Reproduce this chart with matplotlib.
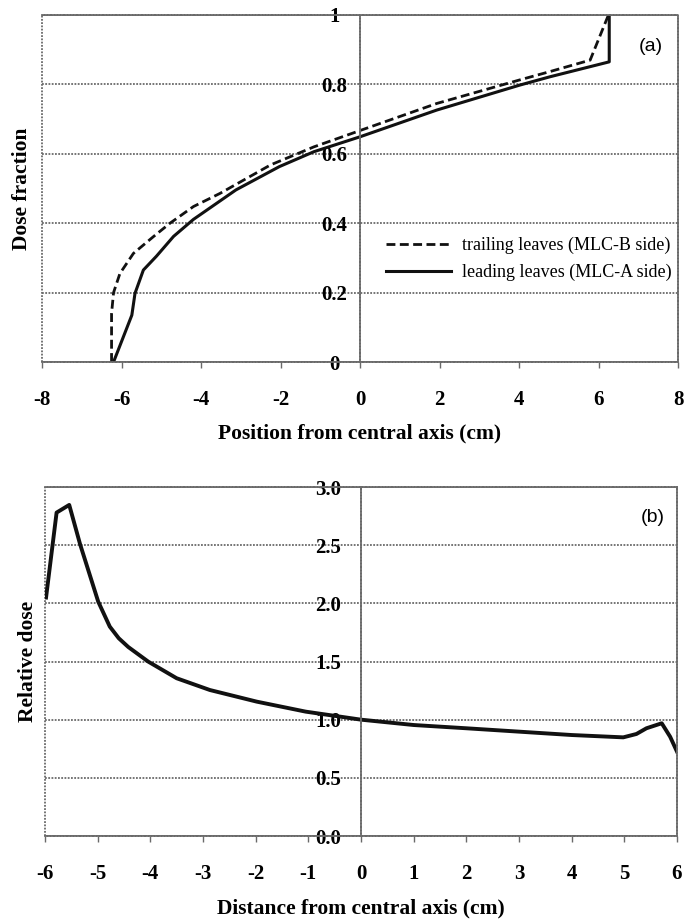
import matplotlib
matplotlib.use("Agg")
import matplotlib.pyplot as plt

# ---- data (panel a) ----
trail_x = [-6.25, -6.25, -6.2, -6.04, -5.7, -5.2, -4.78, -4.19, -3.52, -2.25, -1.16, 0.0, 1.93, 4.02, 4.78, 5.79, 6.25]
trail_y = [0.0, 0.14, 0.2, 0.255, 0.313, 0.361, 0.4, 0.448, 0.486, 0.568, 0.62, 0.667, 0.745, 0.813, 0.837, 0.87, 1.0]
lead_x = [-6.2, -5.74, -5.66, -5.45, -5.12, -4.69, -4.19, -3.12, -2.03, -1.16, 0.0, 1.93, 4.02, 4.78, 6.27, 6.27]
lead_y = [0.0, 0.135, 0.198, 0.265, 0.305, 0.362, 0.411, 0.496, 0.563, 0.606, 0.649, 0.726, 0.798, 0.822, 0.865, 1.0]
a_xticks = [-8, -6, -4, -2, 0, 2, 4, 6, 8]
a_yticks = [0, 0.2, 0.4, 0.6, 0.8, 1.0]
a_yticklabels = ["0", "0.2", "0.4", "0.6", "0.8", "1"]

# ---- data (panel b) ----
dist_x = [-5.98, -5.78, -5.54, -5.335, -4.99, -4.77, -4.6, -4.42, -4.04, -3.5, -2.87, -1.98, -1.05, 0.0,
          1.0, 2.0, 3.0, 4.0, 4.98, 5.23, 5.42, 5.71, 5.87, 6.0]
dist_y = [2.05, 2.78, 2.846, 2.51, 2.015, 1.80, 1.70, 1.625, 1.499, 1.356, 1.255, 1.155, 1.069, 1.0,
          0.954, 0.926, 0.897, 0.868, 0.848, 0.877, 0.926, 0.969, 0.853, 0.725]
b_xticks = list(range(-6, 7))
b_yticks = [0.0, 0.5, 1.0, 1.5, 2.0, 2.5, 3.0]
b_yticklabels = ["0.0", "0.5", "1.0", "1.5", "2.0", "2.5", "3.0"]

SERIF = ["Liberation Serif", "DejaVu Serif"]
SANS = ["Liberation Sans", "DejaVu Sans"]
GRID_C = "#6a6a6a"
DOT = (0, (1, 0.8))

fig = plt.figure(figsize=(6.84, 9.22), dpi=100)
ax1 = fig.add_axes([42/684, 1-362/922, 636/684, 347/922])
ax2 = fig.add_axes([45/684, 1-836/922, 632/684, 349/922])


def style(ax, xlim, ylim, xticks, yticks, yticklabels, xlabel, ylabel, ylab_x, tag, tag_xy, pad_x, pad_y):
    ax.spines["left"].set_position(("data", 0))
    ax.set_xlim(*xlim)
    ax.set_ylim(*ylim)
    ax.set_xticks(xticks)
    ax.set_xticklabels([str(t) for t in xticks], fontfamily=SERIF, fontweight="bold", fontsize=15)
    ax.set_yticks(yticks)
    ax.set_yticklabels(yticklabels, fontfamily=SERIF, fontweight="bold", fontsize=15, ha="center")
    for s in ax.spines.values():
        s.set_color(GRID_C)
        s.set_linestyle(DOT)
        s.set_linewidth(1.3)
    ax.axvline(xlim[0], color=GRID_C, linestyle=DOT, lw=1.3, clip_on=False, zorder=1)
    ax.yaxis.grid(True, color=GRID_C, linestyle=DOT, lw=1.3)
    ax.set_axisbelow(True)
    ax.tick_params(axis="y", length=0, pad=pad_y)
    ax.tick_params(axis="x", length=4, width=1, color=GRID_C, pad=pad_x, direction="out")
    ax.set_xlabel(xlabel, fontfamily=SERIF, fontweight="bold", fontsize=15.5, labelpad=10)
    ax.set_ylabel(ylabel, fontfamily=SERIF, fontweight="bold", fontsize=15.5)
    ax.yaxis.set_label_coords(ylab_x, 0.5)
    ax.text(tag_xy[0], tag_xy[1], tag, transform=ax.transAxes, fontfamily=SANS,
            fontsize=14, ha="center", va="center")


style(ax1, (-8, 8), (0, 1), a_xticks, a_yticks, a_yticklabels,
      "Position from central axis (cm)", "Dose fraction", -0.015, "(a)", (0.958, 0.908), 16, 18.5)
ax1.plot(trail_x, trail_y, color="#111111", lw=2.0, linestyle=(0, (3.2, 1.6)),
         label="trailing leaves (MLC-B side)", solid_joinstyle="miter")
ax1.plot(lead_x, lead_y, color="#111111", lw=2.2, label="leading leaves (MLC-A side)")
leg = ax1.legend(loc="center right", bbox_to_anchor=(0.99, 0.297), frameon=False,
                 prop={"family": SERIF, "size": 13}, handlelength=3.6, handletextpad=0.6,
                 labelspacing=0.55, borderpad=0, borderaxespad=0)

style(ax2, (-6, 6), (0, 3), b_xticks, b_yticks, b_yticklabels,
      "Distance from central axis (cm)", "Relative dose", -0.011, "(b)", (0.962, 0.914), 16.5, 23.5)
ax2.plot(dist_x, dist_y, color="#111111", lw=2.8)

fig.savefig("out.png", dpi=100)
